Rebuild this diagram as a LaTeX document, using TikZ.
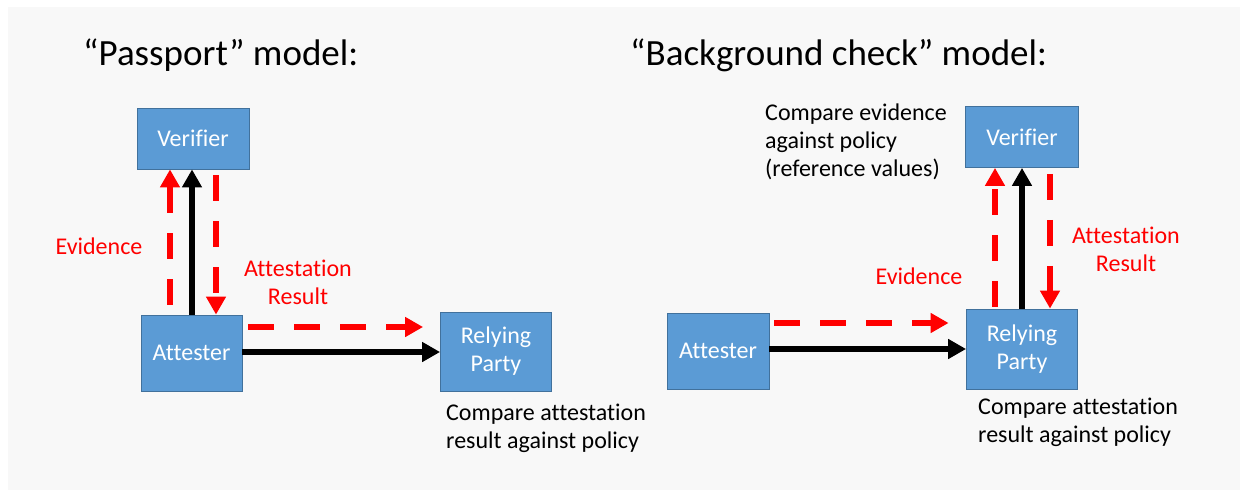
\documentclass[tikz,border=0pt]{standalone}
\usepackage{fontspec}
\setmainfont{Carlito}[Ligatures=NoCommon]
\usetikzlibrary{arrows.meta}
\definecolor{boxfill}{HTML}{5B9BD5}
\definecolor{boxline}{HTML}{41719C}
\definecolor{canvas}{HTML}{F8F8F8}
\definecolor{flowred}{HTML}{FF0000}
\begin{document}
\begin{tikzpicture}[x=1pt,y=-1pt,
  entity/.style={draw=boxline,line width=0.8pt,fill=boxfill,text=white,
    inner sep=0pt,align=center,font=\fontsize{24}{28}\selectfont},
  plain/.style={align=left,inner sep=0pt,font=\fontsize{24}{28}\selectfont},
  redlabel/.style={align=center,inner sep=0pt,text=flowred,font=\fontsize{24}{28}\selectfont},
  heading/.style={anchor=west,inner sep=0pt,font=\fontsize{37}{44}\selectfont},
  solidflow/.style={line width=6pt,-{Triangle[length=18pt,width=19pt]}},
  dashflow/.style={line width=6pt,draw=flowred,dash pattern=on 26pt off 20pt,
    -{Triangle[length=18pt,width=19pt]}}]
% page and canvas
\useasboundingbox (0,0) rectangle (1245,495);
\fill[white] (0,0) rectangle (1245,495);
\fill[canvas] (8,7) rectangle (1240,490);

% ---- Passport model ----
\node[heading] (pT) at (83,55) {“Passport” model:};
\node[entity,minimum width=112pt,minimum height=61pt] (pV) at (193,138.5) {Verifier};
\node[entity,minimum width=101pt,minimum height=76pt] (pA) at (191.5,353) {Attester};
\node[entity,minimum width=111pt,minimum height=79pt] (pR) at (496,351.5) {Relying\\Party};
\node[redlabel] (pEv) at (99,246) {Evidence};
\node[redlabel] (pAR) at (298,282) {Attestation\\Result};
\node[plain,anchor=north west] (pC) at (446,404) {Compare attestation\\result against policy};

\draw[solidflow] ([xshift=0.5pt]pA.north) -- ([xshift=-1pt]pV.south);
\draw[dashflow] ([xshift=-21.5pt,yshift=10pt]pA.north) -- ([xshift=-23pt]pV.south);
\draw[dashflow] ([xshift=23pt,yshift=-6pt]pV.south) -- ([xshift=24.5pt]pA.north);
\draw[dashflow] ([xshift=6pt,yshift=26pt]pA.east) -- ([xshift=-17pt,yshift=24.5pt]pR.west);
\draw[solidflow] ([yshift=1pt]pA.east) -- ([yshift=-0.5pt]pR.west);

% ---- Background check model ----
\node[heading] (bT) at (630,55) {“Background check” model:};
\node[entity,minimum width=113pt,minimum height=61pt] (rV) at (1022,137) {Verifier};
\node[entity,minimum width=111pt,minimum height=80pt] (rR) at (1022,349) {Relying\\Party};
\node[entity,minimum width=102pt,minimum height=76pt] (rA) at (718,351) {Attester};
\node[plain,anchor=north west] (rC) at (765,104) {Compare evidence\\against policy\\(reference values)};
\node[redlabel] (rEv) at (919,276) {Evidence};
\node[redlabel] (rAR) at (1126,249.5) {Attestation\\Result};
\node[plain,anchor=north west] (rC2) at (978,398) {Compare attestation\\result against policy};

\draw[solidflow] (rR.north) -- (rV.south);
\draw[dashflow] ([xshift=-27pt,yshift=2pt]rR.north) -- ([xshift=-27pt]rV.south);
\draw[dashflow] ([xshift=28pt,yshift=-6pt]rV.south) -- ([xshift=28pt]rR.north);
\draw[dashflow] ([xshift=5pt,yshift=28pt]rA.east) -- ([xshift=-17.5pt,yshift=26pt]rR.west);
\draw[solidflow] ([yshift=2pt]rA.east) -- (rR.west);
\end{tikzpicture}
\end{document}
